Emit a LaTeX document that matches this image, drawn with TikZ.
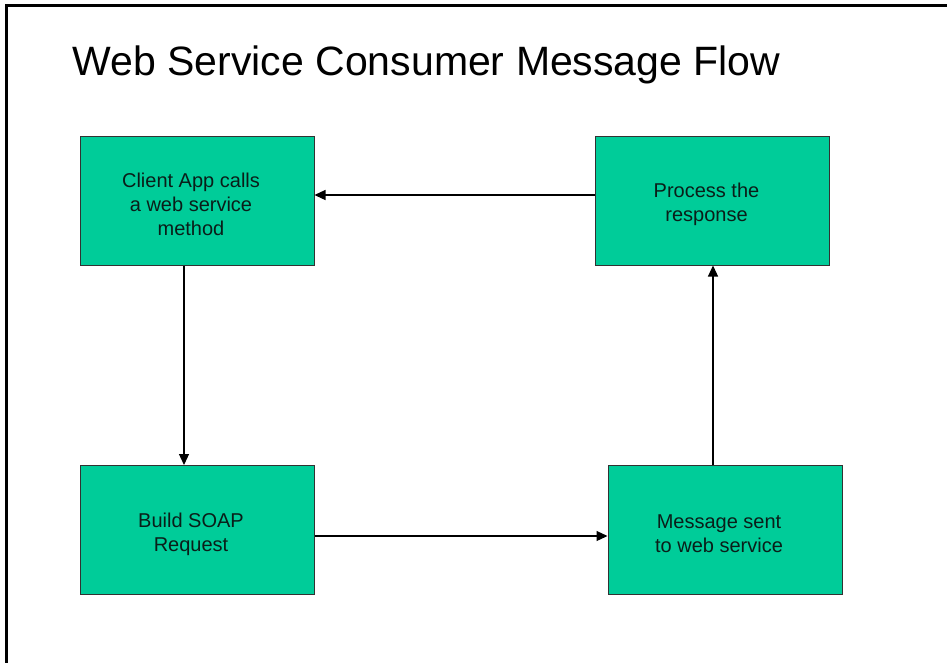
\documentclass[tikz,border=0pt]{standalone}
\usepackage{fontspec}
\setmainfont{Liberation Sans}
\usetikzlibrary{arrows.meta}
\definecolor{boxgreen}{RGB}{0,204,153}
\definecolor{boxline}{RGB}{50,50,50}
\definecolor{boxtext}{RGB}{10,30,25}
\tikzset{
  flowbox/.style={draw=boxline, line width=1pt, fill=boxgreen, minimum width=234pt, minimum height=129pt, inner sep=0pt},
  boxlabel/.style={font=\fontsize{20}{24}\selectfont, text=boxtext, align=center},
  arr/.style={draw=black, line width=1.2pt, -{Triangle[length=11pt,width=10pt]}}
}
\begin{document}
\begin{tikzpicture}[x=1pt,y=-1pt]
\useasboundingbox (0,0) rectangle (947,662);
\draw[line width=2.6pt] (6.5,670) -- (6.5,5.5) -- (960,5.5);
\node[anchor=base west, font=\fontsize{41}{48}\selectfont] (title) at (69,75) {Web Service Consumer Message Flow};
\node[flowbox, label={[boxlabel, xshift=-6pt, yshift=-4pt]center:{Client App calls\\a web service\\method}}] (b1) at (197,200.5) {};
\node[flowbox, label={[boxlabel, xshift=-6pt, yshift=-4pt]center:{Process the\\response}}] (b2) at (712.5,200.5) {};
\node[flowbox, label={[boxlabel, xshift=-6pt, yshift=-4pt]center:{Build SOAP\\Request}}] (b3) at (197,530) {};
\node[flowbox, label={[boxlabel, xshift=-6pt, yshift=-4pt]center:{Message sent\\to web service}}] (b4) at (725,530) {};
\draw[arr] ([yshift=5.5pt]b2.west) -- ([yshift=5.5pt]b2.west -| b1.east);
\draw[arr] ([xshift=-13pt]b1.south) -- ([xshift=-13pt]b1.south |- b3.north);
\draw[arr] ([yshift=-6pt]b3.east) -- ([yshift=-6pt]b3.east -| b4.west);
\draw[arr] ([xshift=-12pt]b4.north) -- ([xshift=-12pt]b4.north |- b2.south);
\end{tikzpicture}
\end{document}
